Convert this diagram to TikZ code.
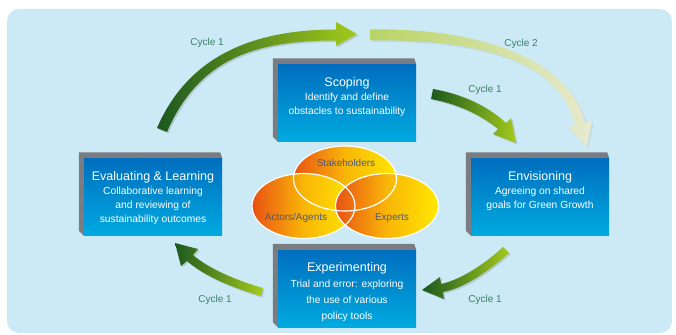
\documentclass[tikz,border=0pt]{standalone}
\usepackage{fontspec}
\setmainfont{Liberation Sans}
\usetikzlibrary{shapes.geometric,shadows,backgrounds}

\definecolor{panelblue}{RGB}{204,233,246}
\definecolor{boxtop}{RGB}{0,110,190}
\definecolor{boxbottom}{RGB}{0,170,224}
\definecolor{boxside}{RGB}{122,124,130}
\definecolor{cycledark}{RGB}{28,88,30}
\definecolor{cyclelight}{RGB}{164,202,28}
\definecolor{cyclemid}{RGB}{184,212,100}
\definecolor{cyclepale}{RGB}{232,234,206}
\definecolor{cycletext}{RGB}{60,128,100}
\definecolor{ellred}{RGB}{232,82,20}
\definecolor{ellorange}{RGB}{249,182,8}
\definecolor{ellyellow}{RGB}{255,232,0}
\definecolor{elltext}{RGB}{78,88,120}

\newcommand{\stagetitle}[1]{{\fontsize{12.5}{15}\selectfont #1}}

\begin{document}
\begin{tikzpicture}[x=1pt, y=-1pt,
    stagebox/.style={rectangle, minimum width=138pt, minimum height=77pt, inner sep=0pt, top color=boxtop, bottom color=boxbottom},
    stagetext/.style={anchor=north, inner sep=0pt, align=center, text=white, font=\fontsize{10.3}{14}\selectfont},
    venn/.style={ellipse, minimum width=103pt, minimum height=65pt, inner sep=0pt, left color=ellred, right color=ellyellow, middle color=ellorange},
    vennlabel/.style={text=elltext, font=\fontsize{10}{12}\selectfont},
    cyclelabel/.style={text=cycletext, font=\fontsize{10}{12}\selectfont},
    cyclearrow/.style={left color=cycledark, right color=cyclelight, drop shadow={shadow xshift=1.5pt, shadow yshift=-1.5pt, opacity=0.3}}]

    \useasboundingbox (0,0) rectangle (676,334);

    % Panel
    \begin{pgfonlayer}{background}
      \fill[panelblue, rounded corners=12pt] (7,9) rectangle (672,333);
    \end{pgfonlayer}

    % Stages
    \node[stagebox] (scoping) at (347,103) {};
    \node[stagetext] (scopingtext) at ([yshift=-13pt]scoping.north) {\stagetitle{Scoping}\\Identify and define\\obstacles to sustainability};
    \node[stagebox] (envisioning) at (540,197) {};
    \node[stagetext] (envisioningtext) at ([yshift=-13pt]envisioning.north) {\stagetitle{Envisioning}\\Agreeing on shared\\goals for Green Growth};
    \node[stagebox] (experimenting) at (347,288.5) {};
    \node[stagetext, font=\fontsize{10.3}{16}\selectfont] (experimentingtext) at ([yshift=-12pt]experimenting.north) {\stagetitle{Experimenting}\\Trial and error: exploring\\the use of various\\policy tools};
    \node[stagebox] (evaluating) at (153,197) {};
    \node[stagetext] (evaluatingtext) at ([yshift=-13pt]evaluating.north) {\stagetitle{Evaluating \& Learning}\\Collaborative learning\\and reviewing of\\sustainability outcomes};

    % Box sides
    \begin{pgfonlayer}{background}
      \foreach \stage in {scoping,envisioning,experimenting,evaluating}
        \fill[boxside] (\stage.south west) -- ([shift={(-5pt,5pt)}]\stage.south west)
          -- ([shift={(-5pt,6pt)}]\stage.north west) -- ([shift={(-2pt,6pt)}]\stage.north east)
          -- (\stage.north east) -- cycle;
    \end{pgfonlayer}

    % Actors
    \node[venn] (stakeholders) at (345,178.5) {};
    \node[venn] (actors) at (303.5,206) {};
    \node[venn] (experts) at (387,206) {};
    \foreach \set in {stakeholders,actors,experts}
      \draw[white, line width=1.2pt] (\set.center) ellipse (51.5pt and 32.5pt);
    \node[vennlabel] (stakeholderslabel) at (346,163) {Stakeholders};
    \node[vennlabel] (actorslabel) at (296,218) {Actors/Agents};
    \node[vennlabel] (expertslabel) at (392,218) {Experts};

    % Cycle arrows
    \shade[cyclearrow] (157,128) .. controls (189,54) and (256,29.5) .. (336,29.5) -- (336,22) -- (357,34) -- (336,46) -- (336,40.5) .. controls (256,40.5) and (199,58) .. (167,132) -- cycle;
    \shade[left color=cyclemid, right color=cyclepale, drop shadow={shadow xshift=1.5pt, shadow yshift=-1.5pt, opacity=0.15}] (370,29.5) .. controls (480,27.5) and (570,59) .. (585,123) -- (592,121) -- (587,147) -- (568,127) -- (575,125) .. controls (560,61) and (480,38.5) .. (370,40.5) -- cycle;
    \shade[cyclearrow] (433,89) .. controls (462,94) and (488,106) .. (506,123) -- (511,118) -- (516,143) -- (493,134) -- (498,129) .. controls (481,115) and (458,104) .. (431,99) -- cycle;
    \shade[cyclearrow] (503,247) .. controls (485,264) and (460,280) .. (441,284) -- (440,277) -- (422,290) -- (444,299) -- (443,292) .. controls (465,288) and (490,270) .. (509,253) -- cycle;
    \shade[cyclearrow] (263,288) .. controls (235,280) and (208,268) .. (193,255) -- (198,249) -- (175,243) -- (181,266) -- (187,261) .. controls (204,276) and (233,288) .. (261,296) -- cycle;

    % Labels
    \node[cyclelabel] (cycleonetop) at (207,43) {Cycle 1};
    \node[cyclelabel] (cycletwo) at (521,44) {Cycle 2};
    \node[cyclelabel] (cycleoneright) at (485,90) {Cycle 1};
    \node[cyclelabel] (cycleonebottom) at (485,300) {Cycle 1};
    \node[cyclelabel] (cycleoneleft) at (215,300) {Cycle 1};
\end{tikzpicture}
\end{document}
